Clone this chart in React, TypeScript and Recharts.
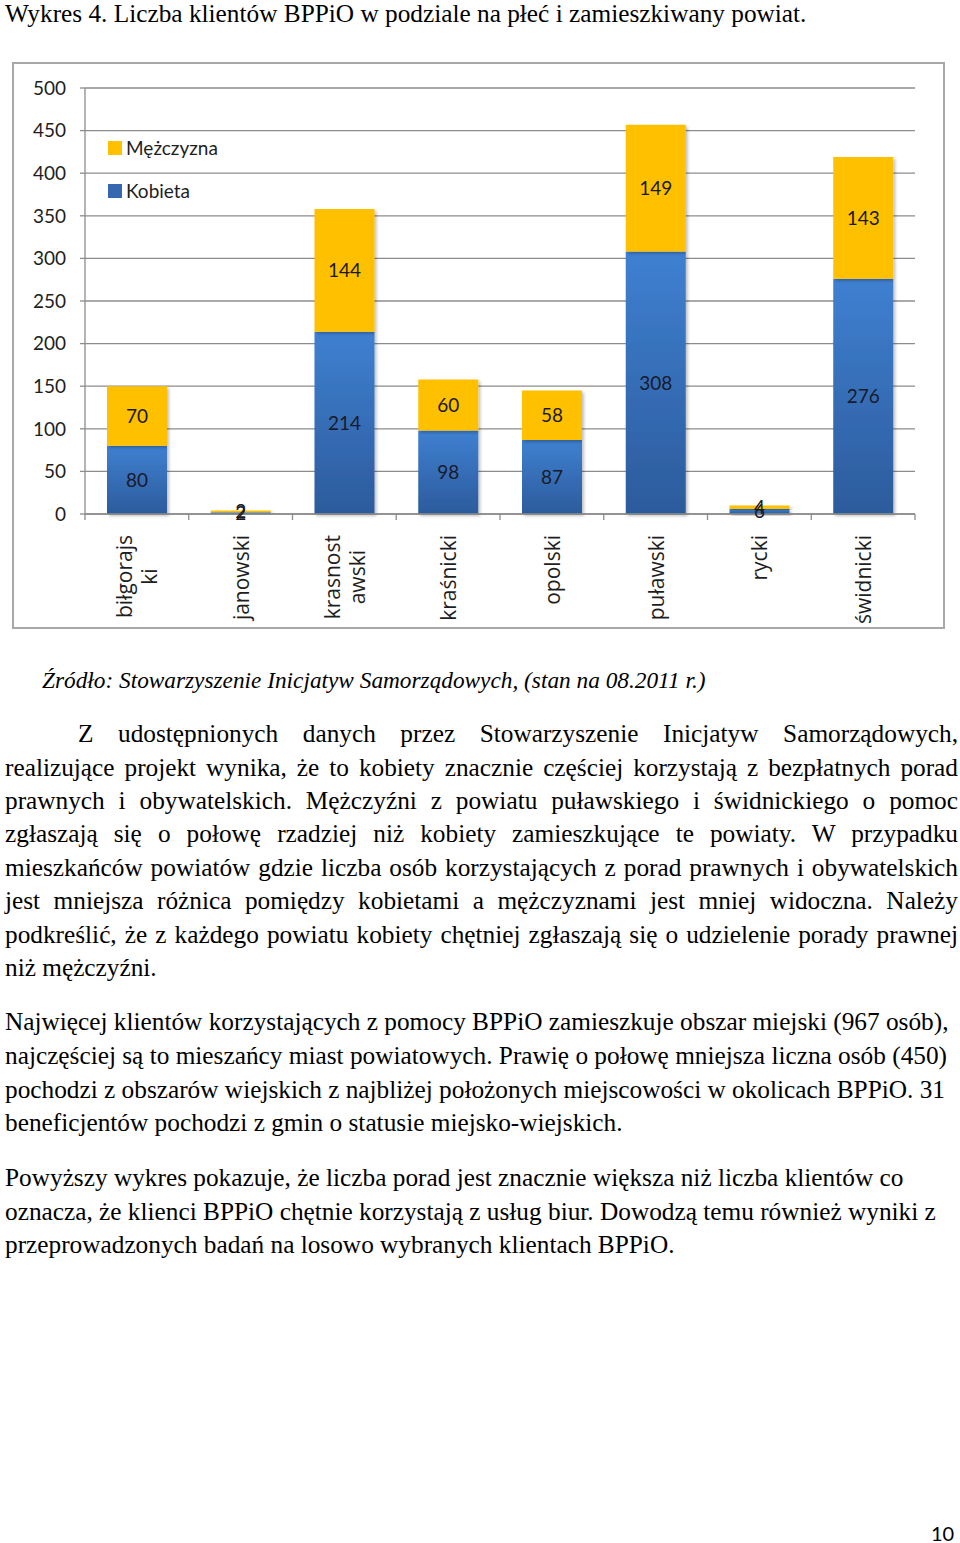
import React from 'react';
import { BarChart, Bar, XAxis, YAxis, CartesianGrid, Legend, LabelList } from 'recharts';

// ---- data ----
const categories = ['biłgorajski', 'janowski', 'krasnostawski', 'kraśnicki', 'opolski', 'puławski', 'rycki', 'świdnicki'];
const kobieta = [80, 2, 214, 98, 87, 308, 6, 276];
const mezczyzna = [70, 2, 144, 60, 58, 149, 4, 143];
const categoryTickLines = [['biłgorajs', 'ki'], ['janowski'], ['krasnost', 'awski'], ['kraśnicki'], ['opolski'], ['puławski'], ['rycki'], ['świdnicki']];
const yTicks = [0, 50, 100, 150, 200, 250, 300, 350, 400, 450, 500];
const seriesKobieta = 'Kobieta';
const seriesMezczyzna = 'Mężczyzna';

const data = categories.map((c, i) => ({ name: c, kobieta: kobieta[i], mezczyzna: mezczyzna[i] }));

const GRID = '#8c8c8c';
const CAT_FONT = "'Open Sans', sans-serif";
const NUM_FONT = 'Lato, sans-serif';
const SERIF = "'Liberation Serif', Tinos, 'Times New Roman', 'Noto Serif', 'DejaVu Serif', serif";
const YELLOW = '#ffc000';
const BLUE_LEGEND = '#3568b0';

let measureCtx: CanvasRenderingContext2D | null = null;
function measure(text: string, font: string): number {
  try {
    if (!measureCtx) measureCtx = document.createElement('canvas').getContext('2d');
    if (measureCtx) {
      measureCtx.font = font;
      return measureCtx.measureText(text).width;
    }
  } catch (e) {}
  return text.length * 11;
}

const CategoryTick = (props: any) => {
  const { x, y, payload, index, visibleTicksCount } = props;
  const off = payload && typeof payload.offset === 'number' && payload.offset > 0 ? payload.offset : 51.875;
  const lines: string[] = categoryTickLines[index] || [String(payload.value)];
  const widths = lines.map((l) => measure(l, `21px 'Open Sans'`));
  const maxW = Math.max(...widths);
  const top = y + 21;
  const cy = top + maxW / 2;
  const n = lines.length;
  return (
    <g>
      <line x1={x - off} x2={x - off} y1={y} y2={y + 6} stroke={GRID} strokeWidth={1.3} />
      {index === visibleTicksCount - 1 && (
        <line x1={x + off} x2={x + off} y1={y} y2={y + 6} stroke={GRID} strokeWidth={1.3} />
      )}
      {lines.map((l, i) => {
        const lx = x + (i - (n - 1) / 2) * 25;
        return (
          <text
            key={i}
            x={lx}
            y={cy}
            transform={`rotate(-90 ${lx} ${cy})`}
            textAnchor="middle"
            dominantBaseline="central"
            fontFamily={CAT_FONT}
            fontSize={21}
            fill="#1e1e1e"
          >
            {l}
          </text>
        );
      })}
    </g>
  );
};

const LegendContent = () => {
  const items = [
    { name: seriesMezczyzna, color: YELLOW },
    { name: seriesKobieta, color: BLUE_LEGEND },
  ];
  return (
    <div style={{ fontFamily: NUM_FONT, fontSize: 19, color: '#1e1e1e' }}>
      {items.map((it) => (
        <div key={it.name} style={{ height: 43, display: 'flex', alignItems: 'center' }}>
          <span style={{ width: 14, height: 14, background: it.color, display: 'inline-block', marginRight: 4 }} />
          <span>{it.name}</span>
        </div>
      ))}
    </div>
  );
};

const para1 = [
  'Z udostępnionych danych przez Stowarzyszenie Inicjatyw Samorządowych,',
  'realizujące projekt wynika, że to kobiety znacznie częściej korzystają z bezpłatnych porad',
  'prawnych i obywatelskich. Mężczyźni z powiatu puławskiego i świdnickiego o pomoc',
  'zgłaszają się o połowę rzadziej niż kobiety zamieszkujące te powiaty. W przypadku',
  'mieszkańców powiatów gdzie liczba osób korzystających z porad prawnych i obywatelskich',
  'jest mniejsza różnica pomiędzy kobietami a mężczyznami jest mniej widoczna. Należy',
  'podkreślić, że z każdego powiatu kobiety chętniej zgłaszają się o udzielenie porady prawnej',
  'niż mężczyźni.',
];
const para1Y = [733, 767, 800, 833, 867, 900, 934, 967];
const para2 = [
  'Najwięcej klientów korzystających z pomocy BPPiO zamieszkuje obszar miejski (967 osób),',
  'najczęściej są to mieszańcy miast powiatowych. Prawię o połowę mniejsza liczna osób (450)',
  'pochodzi z obszarów wiejskich z najbliżej położonych miejscowości w okolicach BPPiO. 31',
  'beneficjentów pochodzi z gmin o statusie miejsko-wiejskich.',
];
const para2Y = [1021, 1055, 1089, 1122];
const para3 = [
  'Powyższy wykres pokazuje, że liczba porad jest znacznie większa niż liczba klientów co',
  'oznacza, że klienci BPPiO chętnie korzystają z usług biur. Dowodzą temu również wyniki z',
  'przeprowadzonych badań na losowo wybranych klientach BPPiO.',
];
const para3Y = [1177, 1211, 1244];

const FS = 25.3;

const Line = ({ text, cy, left, right, justify }: any) => (
  <div
    style={{
      position: 'absolute',
      left,
      width: right - left,
      top: cy - 17,
      height: 34,
      lineHeight: '34px',
      fontFamily: SERIF,
      fontSize: FS,
      color: '#000',
      whiteSpace: 'nowrap',
      textAlign: justify ? 'justify' : 'left',
      textAlignLast: justify ? 'justify' : 'left',
    } as any}
  >
    {text}
  </div>
);

export default function App() {
  return (
    <div style={{ position: 'absolute', left: 0, top: 0, width: 960, height: 1543, background: '#fff', overflow: 'hidden' }}>
      <div style={{ position: 'absolute', left: 5, top: -4, lineHeight: '34px', fontFamily: SERIF, fontSize: FS, whiteSpace: 'nowrap' }}>
        Wykres 4. Liczba klientów BPPiO w podziale na płeć i zamieszkiwany powiat.
      </div>

      <div
        style={{
          position: 'absolute',
          left: 12,
          top: 62,
          width: 933,
          height: 567,
          border: '2px solid #a8a8a8',
          boxSizing: 'border-box',
        }}
      />

      <div style={{ position: 'absolute', left: 0, top: 62 }}>
        <BarChart width={960} height={570} data={data} margin={{ top: 26, right: 45, bottom: 0, left: 0 }} barSize={60}>
          <defs>
            <linearGradient id="kobietaGrad" x1="0" y1="0" x2="0" y2="1">
              <stop offset="0%" stopColor="#3f80d1" />
              <stop offset="100%" stopColor="#2c5b9c" />
            </linearGradient>
            <filter id="barShadow" x="-10%" y="-10%" width="130%" height="130%">
              <feDropShadow dx="2" dy="2" stdDeviation="1.5" floodColor="#000" floodOpacity="0.25" />
            </filter>
          </defs>
          <CartesianGrid vertical={false} stroke={GRID} strokeWidth={1.3} />
          <XAxis
            dataKey="name"
            type="category"
            interval={0}
            height={118}
            tickSize={0}
            tickMargin={0}
            tickLine={false}
            axisLine={{ stroke: GRID, strokeWidth: 1.3 }}
            tick={<CategoryTick />}
          />
          <YAxis
            type="number"
            domain={[0, 500]}
            ticks={yTicks}
            interval={0}
            width={85}
            tickSize={5}
            tickMargin={14}
            axisLine={{ stroke: GRID, strokeWidth: 1.3 }}
            tickLine={{ stroke: GRID, strokeWidth: 1.3 }}
            tick={{ fontFamily: NUM_FONT, fontSize: 19, fill: '#1e1e1e' }}
          />
          <Legend
            layout="vertical"
            align="center"
            verticalAlign="middle"
            content={<LegendContent />}
            wrapperStyle={{ left: 108, top: 64, width: 'auto', height: 'auto' }}
          />
          <Bar dataKey="kobieta" name={seriesKobieta} stackId="a" fill="url(#kobietaGrad)" filter="url(#barShadow)" isAnimationActive={false}>
            <LabelList dataKey="kobieta" position="center" fontFamily={NUM_FONT} fontSize={19} fill="#1a1a2a" />
          </Bar>
          <Bar dataKey="mezczyzna" name={seriesMezczyzna} stackId="a" fill={YELLOW} filter="url(#barShadow)" isAnimationActive={false}>
            <LabelList dataKey="mezczyzna" position="center" fontFamily={NUM_FONT} fontSize={19} fill="#1a1a1a" />
          </Bar>
        </BarChart>
      </div>

      <div
        style={{
          position: 'absolute',
          left: 42,
          top: 663,
          lineHeight: '34px',
          fontFamily: SERIF,
          fontSize: 23.3,
          fontStyle: 'italic',
          whiteSpace: 'nowrap',
        }}
      >
        Źródło: Stowarzyszenie Inicjatyw Samorządowych, (stan na 08.2011 r.)
      </div>

      {para1.map((t, i) => (
        <Line key={'p1' + i} text={t} cy={para1Y[i]} left={i === 0 ? 78 : 5} right={958} justify={i < para1.length - 1} />
      ))}
      {para2.map((t, i) => (
        <Line key={'p2' + i} text={t} cy={para2Y[i]} left={5} right={958} justify={false} />
      ))}
      {para3.map((t, i) => (
        <Line key={'p3' + i} text={t} cy={para3Y[i]} left={5} right={958} justify={false} />
      ))}

      <div style={{ position: 'absolute', left: 931, top: 1519, lineHeight: '28px', fontFamily: NUM_FONT, fontSize: 20 }}>10</div>
    </div>
  );
}
